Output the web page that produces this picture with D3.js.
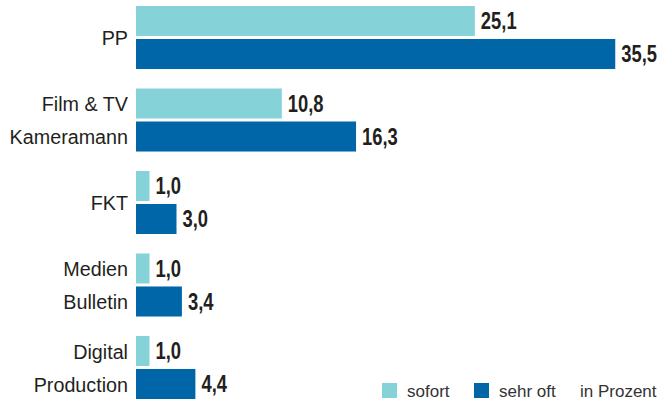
<!DOCTYPE html>
<html lang="de">
<head>
    <meta charset="UTF-8">
    <title>sofort / sehr oft</title>
    <script src="https://cdn.jsdelivr.net/npm/d3@7"></script>
    <style>
        html, body { margin: 0; padding: 0; background: #fff; }
        svg { display: block; }
        .cat-label { font-family: "Liberation Sans", Arial, sans-serif; font-size: 21px; fill: #231f20; }
        .val-label { font-family: "Liberation Sans", Arial, sans-serif; font-size: 23px; font-weight: bold; fill: #231f20; }
        .legend-label { font-family: "Liberation Sans", Arial, sans-serif; font-size: 17px; fill: #333; }
    </style>
</head>
<body>
    <svg id="chart" width="661" height="400"></svg>
    <script>
        // Daten
        const categories = [['PP'], ['Film & TV', 'Kameramann'], ['FKT'], ['Medien', 'Bulletin'], ['Digital', 'Production']];
        const sofort = [25.1, 10.8, 1.0, 1.0, 1.0];
        const sehrOft = [35.5, 16.3, 3.0, 3.4, 4.4];
        const seriesNames = ['sofort', 'sehr oft'];
        const unitNote = 'in Prozent';

        const colors = ['#86d2d9', '#0066a8'];

        const svg = d3.select('#chart');
        const fmt = d3.formatLocale({ decimal: ',', thousands: '.', grouping: [3], currency: ['', '€'] }).format('.1f');

        // Skalen
        const x = d3.scaleLinear().domain([0, 40]).range([136, 676]);
        const y = d3.scaleBand().domain(d3.range(categories.length)).range([6, 399]).paddingInner(0.236);
        const ySub = d3.scaleBand().domain([0, 1]).range([0, y.bandwidth()]).paddingInner(0.09);

        const rows = categories.map((c, i) => ({ i, lines: c, values: [sofort[i], sehrOft[i]] }));

        const groups = svg.selectAll('.group')
            .data(rows)
            .enter()
            .append('g')
            .attr('class', 'group')
            .attr('transform', d => `translate(0,${y(d.i)})`);

        // Balken
        groups.selectAll('rect')
            .data(d => d.values.map((v, k) => ({ v, k })))
            .enter()
            .append('rect')
            .attr('x', x(0))
            .attr('y', d => ySub(d.k))
            .attr('width', d => x(d.v) - x(0))
            .attr('height', ySub.bandwidth())
            .attr('fill', d => colors[d.k]);

        // Werte (schmal gestaucht wie im Original)
        groups.selectAll('.val-label')
            .data(d => d.values.map((v, k) => ({ v, k })))
            .enter()
            .append('text')
            .attr('class', 'val-label')
            .attr('transform', d => `translate(${x(d.v) + 6},${ySub(d.k) + ySub.bandwidth() / 2}) scale(0.8,1)`)
            .attr('dy', '0.36em')
            .text(d => fmt(d.v));

        // Kategorien (leicht schmal)
        groups.each(function(d) {
            const g = d3.select(this);
            d.lines.forEach((line, j) => {
                const cy = d.lines.length === 1 ? y.bandwidth() / 2 : ySub(j) + ySub.bandwidth() / 2;
                g.append('text')
                    .attr('class', 'cat-label')
                    .attr('transform', `translate(${x(0) - 8},${cy}) scale(0.94,1)`)
                    .attr('dy', '0.36em')
                    .attr('text-anchor', 'end')
                    .text(line);
            });
        });

        // Legende
        const legend = svg.append('g').attr('transform', 'translate(382,383)');
        const legendX = [0, 92];
        seriesNames.forEach((name, k) => {
            legend.append('rect')
                .attr('x', legendX[k])
                .attr('y', 0)
                .attr('width', 15)
                .attr('height', 15)
                .attr('fill', colors[k]);
            legend.append('text')
                .attr('class', 'legend-label')
                .attr('x', legendX[k] + 25)
                .attr('y', 8)
                .attr('dy', '0.36em')
                .text(name);
        });
        legend.append('text')
            .attr('class', 'legend-label')
            .attr('x', 198)
            .attr('y', 8)
            .attr('dy', '0.36em')
            .text(unitNote);
    </script>
</body>
</html>
